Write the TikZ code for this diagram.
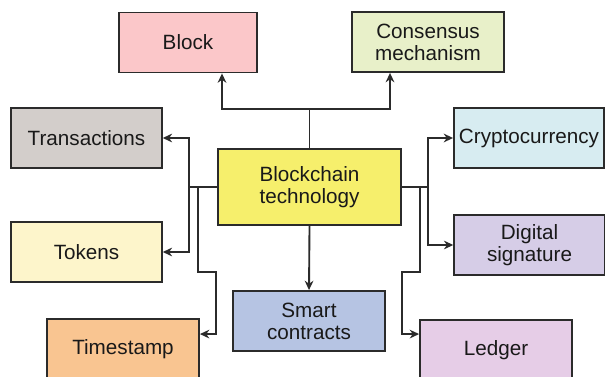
\documentclass[tikz,border=0pt]{standalone}
\usepackage{fontspec}
\setmainfont{Liberation Sans}
\usetikzlibrary{
  positioning,
  calc,
  arrows.meta
}
\definecolor{blockclr}{HTML}{FBC7C9}
\definecolor{consclr}{HTML}{E8F0C9}
\definecolor{transclr}{HTML}{D3CECB}
\definecolor{cryptoclr}{HTML}{D7ECF1}
\definecolor{coreclr}{HTML}{F6EF6C}
\definecolor{tokenclr}{HTML}{FDF5CB}
\definecolor{signclr}{HTML}{D6CDE7}
\definecolor{smartclr}{HTML}{B6C4E3}
\definecolor{timeclr}{HTML}{F9C591}
\definecolor{ledgerclr}{HTML}{E6CDE7}
\definecolor{edgeclr}{HTML}{2B2B2B}

\begin{document}
\begin{tikzpicture}[
    x=0.75pt, y=-0.75pt,
    box/.style={draw=edgeclr, line width=1.4pt, minimum width=113pt,
                minimum height=45pt, inner sep=2pt, align=center,
                font=\fontsize{15.5}{16.5}\selectfont, text=black!90},
    link/.style={draw=edgeclr, line width=1.4pt},
    arr/.style={link, -{Stealth[length=7pt,width=6.5pt]}},
  ]
  \clip (0,0) rectangle (605,377);
  \fill[white] (0,0) rectangle (605,377);

  \node[box, fill=coreclr, minimum width=137pt, minimum height=57pt]
    (core) at (309.5,187) {Blockchain\\technology};
  \node[box, fill=blockclr, minimum width=103.5pt] (blk)    at (188,42.5) {Block};
  \node[box, fill=consclr, minimum width=114pt]    (cons)   at (428,42)   {Consensus\\mechanism};
  \node[box, fill=transclr]                        (trans)  at (86.5,138) {Transactions};
  \node[box, fill=cryptoclr, minimum width=112.5pt] (crypto) at (529,138) {Cryptocurrency};
  \node[box, fill=tokenclr]                        (tok)    at (86.5,252) {Tokens};
  \node[box, fill=signclr]                         (sign)   at (529.5,245) {Digital\\signature};
  \node[box, fill=smartclr, minimum width=114pt]   (smart)  at (309,321)  {Smart\\contracts};
  \node[box, fill=timeclr, minimum width=114pt]    (stamp)  at (123,349)  {Timestamp};
  \node[box, fill=ledgerclr, minimum width=114pt]  (ledger) at (496,350)  {Ledger};

  % upward branch
  \coordinate (topj) at ($(core.north)+(0,-39)$);
  \draw[arr] (core.north) -- (topj) -| ($(blk.south)+(34,0)$);
  \draw[arr] (topj) -| ($(cons.south)+(-38,0)$);

  % left side
  \draw[arr] (core.west) -- ++(-28,0) |- (trans.east);
  \draw[arr] (core.west) -- ++(-28,0) |- (tok.east);
  \draw[arr] (core.west) -- ++(-19,0) -- ++(0,85) -- ++(18,0)
    |- ($(stamp.north east)+(0,16)$);

  % right side
  \draw[arr] (core.east) -- ++(26,0) |- (crypto.west);
  \draw[arr] (core.east) -- ++(26,0) |- (sign.west);
  \draw[arr] (core.east) -- ++(18,0) -- ++(0,85) -- ++(-18,0)
    |- ($(ledger.north west)+(0,15)$);

  \draw[arr] (core.south) -- (smart.north);
\end{tikzpicture}
\end{document}
